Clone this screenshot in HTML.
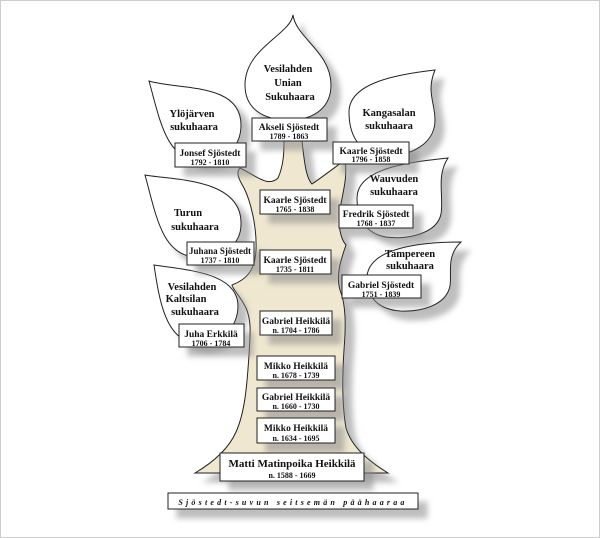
<!DOCTYPE html>
<html><head><meta charset="utf-8"><style>
html,body{margin:0;padding:0;background:#fff;}
svg{display:block;}
text{font-family:"Liberation Serif",serif;font-weight:bold;fill:#111;}
</style></head><body>
<svg width="600" height="538" viewBox="0 0 600 538" xmlns="http://www.w3.org/2000/svg">
<defs>
<filter id="sh" x="-20%" y="-20%" width="150%" height="150%">
<feDropShadow dx="9" dy="9" stdDeviation="3" flood-color="#888" flood-opacity="0.55"/>
</filter>
</defs>
<rect x="0.5" y="0.5" width="599" height="537" fill="#fff" stroke="#ccc"/>

<path filter="url(#sh)" d="M195,473 C212,463 228,450 236,432 C245,412 247,385 249,355 C250,335 252,322 246,308 C240,296 232,288 232,285 C245,280 255,272 256,250 C257,225 250,200 244,188 C238,178 236,172 240,168 C255,175 268,188 278,178 C284,165 284,150 284,140 L302,140 C304,160 306,178 312,184 C325,175 338,165 345,160 C348,178 342,195 340,210 C338,225 340,238 346,245 C340,262 336,276 340,290 C346,305 346,325 344,350 C342,380 342,405 346,428 C352,448 370,462 388,473 Z" fill="#efe7cf" stroke="#222" stroke-width="1"/>

<g fill="#fff" stroke="#222" stroke-width="1" filter="url(#sh)">
<path d="M293,15 C290,35 245,48 245,85 C245,108 262,120 289,120 C316,120 331,106 331,85 C331,52 296,38 293,15 Z"/>
<path d="M149,81 C178,90 241,82 241,125 C241,148 224,161 202,161 C166,161 160,120 149,81 Z"/>
<path d="M435,70 C426,92 435,102 435,120 C435,148 402,158 382,156 C357,152 349,133 349,112 C349,82 400,74 435,70 Z"/>
<path d="M448,158 C436,176 444,196 441,214 C437,234 406,240 386,237 C363,233 357,215 357,198 C357,168 410,162 448,158 Z"/>
<path d="M145,175 C172,180 240,178 241,222 C242,246 222,258 195,257 C162,255 156,215 145,175 Z"/>
<path d="M461,242 C446,256 452,272 450,286 C446,306 420,312 400,311 C375,309 366,294 367,276 C370,248 420,242 461,242 Z"/>
<path d="M154,265 C185,270 240,272 238,308 C236,334 215,344 195,343 C165,340 159,298 154,265 Z"/>
</g>

<g font-size="10.5" text-anchor="middle">
<text x="288" y="72">Vesilahden</text><text x="288" y="86">Unian</text><text x="290" y="100">Sukuhaara</text>
<text x="192" y="117">Ylöjärven</text><text x="194" y="130">sukuhaara</text>
<text x="389" y="116">Kangasalan</text><text x="389" y="129">sukuhaara</text>
<text x="394" y="182">Wauvuden</text><text x="394" y="195">sukuhaara</text>
<text x="188" y="216">Turun</text><text x="195" y="230">sukuhaara</text>
<text x="410" y="257">Tampereen</text><text x="410" y="269">sukuhaara</text>
<text x="192" y="290">Vesilahden</text><text x="186" y="302">Kaltsilan</text><text x="195" y="315">sukuhaara</text>
</g>

<g fill="#fff" stroke="#222" stroke-width="1" filter="url(#sh)">
<rect x="252" y="118" width="75" height="23"/>
<rect x="175" y="143" width="71" height="24"/>
<rect x="333" y="142" width="76" height="22"/>
<rect x="260" y="190" width="70" height="24"/>
<rect x="339" y="205" width="74" height="23"/>
<rect x="187" y="242" width="67" height="23"/>
<rect x="260" y="250" width="71" height="24"/>
<rect x="342" y="275" width="79" height="23"/>
<rect x="260" y="311" width="72" height="24"/>
<rect x="179" y="324" width="65" height="23"/>
<rect x="257" y="356" width="78" height="24"/>
<rect x="257" y="388" width="78" height="23"/>
<rect x="257" y="418" width="78" height="25"/>
<rect x="220" y="453" width="144" height="28"/>
<rect x="168" y="493" width="250" height="16"/>
</g>

<g text-anchor="middle">
<g font-size="9.5">
<text x="289" y="130">Akseli Sjöstedt</text>
<text x="210" y="156">Jonsef Sjöstedt</text>
<text x="371" y="154">Kaarle Sjöstedt</text>
<text x="295" y="203">Kaarle Sjöstedt</text>
<text x="376" y="217">Fredrik Sjöstedt</text>
<text x="220" y="254" textLength="62" lengthAdjust="spacingAndGlyphs">Juhana Sjöstedt</text>
<text x="295" y="263">Kaarle Sjöstedt</text>
<text x="381" y="288">Gabriel Sjöstedt</text>
<text x="296" y="324">Gabriel Heikkilä</text>
<text x="211" y="337">Juha Erkkilä</text>
<text x="296" y="369">Mikko Heikkilä</text>
<text x="296" y="400">Gabriel Heikkilä</text>
<text x="296" y="431">Mikko Heikkilä</text>
</g>
<text x="292" y="467" font-size="11">Matti Matinpoika Heikkilä</text>
<g font-size="8">
<text x="289" y="139">1789 - 1863</text>
<text x="210" y="165">1792 - 1810</text>
<text x="371" y="162">1796 - 1858</text>
<text x="295" y="212">1765 - 1838</text>
<text x="376" y="226">1768 - 1837</text>
<text x="220" y="263">1737 - 1810</text>
<text x="295" y="272">1735 - 1811</text>
<text x="381" y="297">1751 - 1839</text>
<text x="296" y="333">n. 1704 - 1786</text>
<text x="211" y="346">1706 - 1784</text>
<text x="296" y="378">n. 1678 - 1739</text>
<text x="296" y="409">n. 1660 - 1730</text>
<text x="296" y="441">n. 1634 - 1695</text>
<text x="292" y="478">n. 1588 - 1669</text>
</g>
<text x="293" y="505" font-size="8" font-style="italic" font-weight="normal" letter-spacing="3.2">Sjöstedt-suvun seitsemän päähaaraa</text>
</g>
</svg>
</body></html>
